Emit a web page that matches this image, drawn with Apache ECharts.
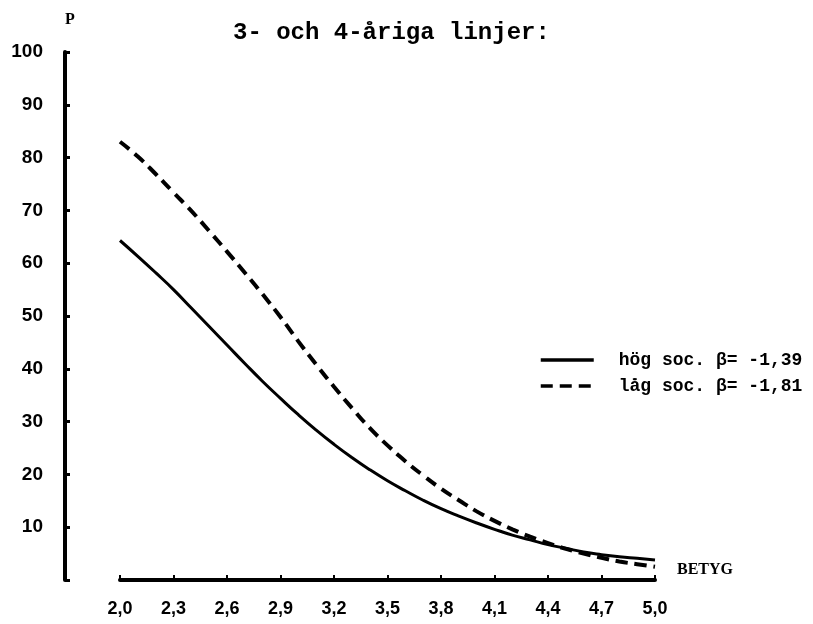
<!DOCTYPE html>
<html>
<head>
<meta charset="utf-8">
<script src="https://cdn.jsdelivr.net/npm/echarts@6/dist/echarts.min.js"></script>
<style>html,body{margin:0;padding:0;background:#fff;}#c{width:813px;height:624px;}</style>
</head>
<body>
<div id="c"></div>
<script>
// Grades (BETYG) in steps of 0.1
var grades = ['2,0','2,1','2,2','2,3','2,4','2,5','2,6','2,7','2,8','2,9',
              '3,0','3,1','3,2','3,3','3,4','3,5','3,6','3,7','3,8','3,9',
              '4,0','4,1','4,2','4,3','4,4','4,5','4,6','4,7','4,8','4,9','5,0'];
// hög soc. (solid)
var hogSoc = [64.3, 61.3, 58.2, 55.0, 51.5, 48.0, 44.5, 41.0, 37.6, 34.4,
              31.3, 28.4, 25.7, 23.2, 20.9, 18.8, 16.9, 15.1, 13.5, 12.1,
              10.8, 9.6, 8.5, 7.6, 6.7, 6.0, 5.3, 4.8, 4.4, 4.1, 3.8];
// låg soc. (dashed)
var lagSoc = [83.0, 80.2, 76.9, 73.4, 69.9, 66.1, 62.2, 58.2, 54.1, 49.8,
              45.2, 40.8, 36.6, 32.6, 28.8, 25.5, 22.5, 19.8, 17.3, 15.1,
              13.0, 11.2, 9.6, 8.2, 7.0, 5.9, 5.0, 4.2, 3.5, 3.0, 2.5];
var yTicks = [0, 10, 20, 30, 40, 50, 60, 70, 80, 90, 100];
var seriesNames = ['hög soc. β= -1,39', 'låg soc. β= -1,81'];
var titleText = '3- och 4-åriga linjer:';

var chart = echarts.init(document.getElementById('c'));
var gridTop = 52, gridBottom = 44;
chart.setOption({
  backgroundColor: '#fff',
  animation: false,
  title: {
    text: titleText, left: 228, top: 16,
    textStyle: {fontFamily: 'Liberation Mono', fontSize: 24, fontWeight: 'bold', color: '#000'}
  },
  legend: {
    orient: 'vertical', left: 534, top: 346, itemGap: 8,
    itemWidth: 53, itemHeight: 14,
    data: seriesNames,
    itemStyle: {color: 'rgba(0,0,0,0)', borderWidth: 0},
    lineStyle: {width: 3.5},
    textStyle: {fontFamily: 'Liberation Mono', fontSize: 18, fontWeight: 'bold', color: '#000', padding: [0,0,0,20]}
  },
  grid: [
    {left: 120, right: 158, top: gridTop, bottom: gridBottom},
    {left: 65, width: 1, top: gridTop, bottom: gridBottom}
  ],
  xAxis: [
    {
      gridIndex: 0, type: 'category', data: grades, boundaryGap: false,
      axisLine: {lineStyle: {color: '#000', width: 4}},
      axisTick: {inside: true, length: 5, interval: 2, lineStyle: {color: '#000', width: 2}},
      axisLabel: {interval: 2, margin: 20, color: '#000', fontFamily: 'Liberation Sans', fontWeight: 'bold', fontSize: 18},
      splitLine: {show: false},
      name: 'BETYG', nameLocation: 'end', nameGap: 22,
      nameTextStyle: {fontFamily: 'Liberation Serif', fontWeight: 'bold', fontSize: 16, color: '#000',
        verticalAlign: 'bottom', padding: [0,0,2,0]}
    },
    {gridIndex: 1, type: 'value', show: false}
  ],
  yAxis: [
    {gridIndex: 0, type: 'value', min: 0, max: 100, show: false},
    {
      gridIndex: 1, type: 'value', min: 0, max: 100, interval: 10,
      axisLine: {show: true, lineStyle: {color: '#000', width: 4}},
      axisTick: {show: true, inside: true, length: 5, lineStyle: {color: '#000', width: 3}},
      axisLabel: {margin: 22, color: '#000', fontFamily: 'Liberation Sans', fontWeight: 'bold', fontSize: 19,
        formatter: function (v) { return v === 0 ? '' : String(v); }},
      splitLine: {show: false},
      name: 'P', nameLocation: 'end', nameGap: 24,
      nameTextStyle: {fontFamily: 'Liberation Serif', fontWeight: 'bold', fontSize: 16, color: '#000', align: 'left'}
    }
  ],
  series: [
    {
      name: seriesNames[0], type: 'line', xAxisIndex: 0, yAxisIndex: 0,
      data: hogSoc, smooth: true, symbol: 'none',
      lineStyle: {color: '#000', width: 3, type: 'solid'},
      itemStyle: {color: '#000'}
    },
    {
      name: seriesNames[1], type: 'line', xAxisIndex: 0, yAxisIndex: 0,
      data: lagSoc, smooth: true, symbol: 'none',
      lineStyle: {color: '#000', width: 4, type: [12, 7]},
      itemStyle: {color: '#000'}
    }
  ]
});
</script>
</body>
</html>
